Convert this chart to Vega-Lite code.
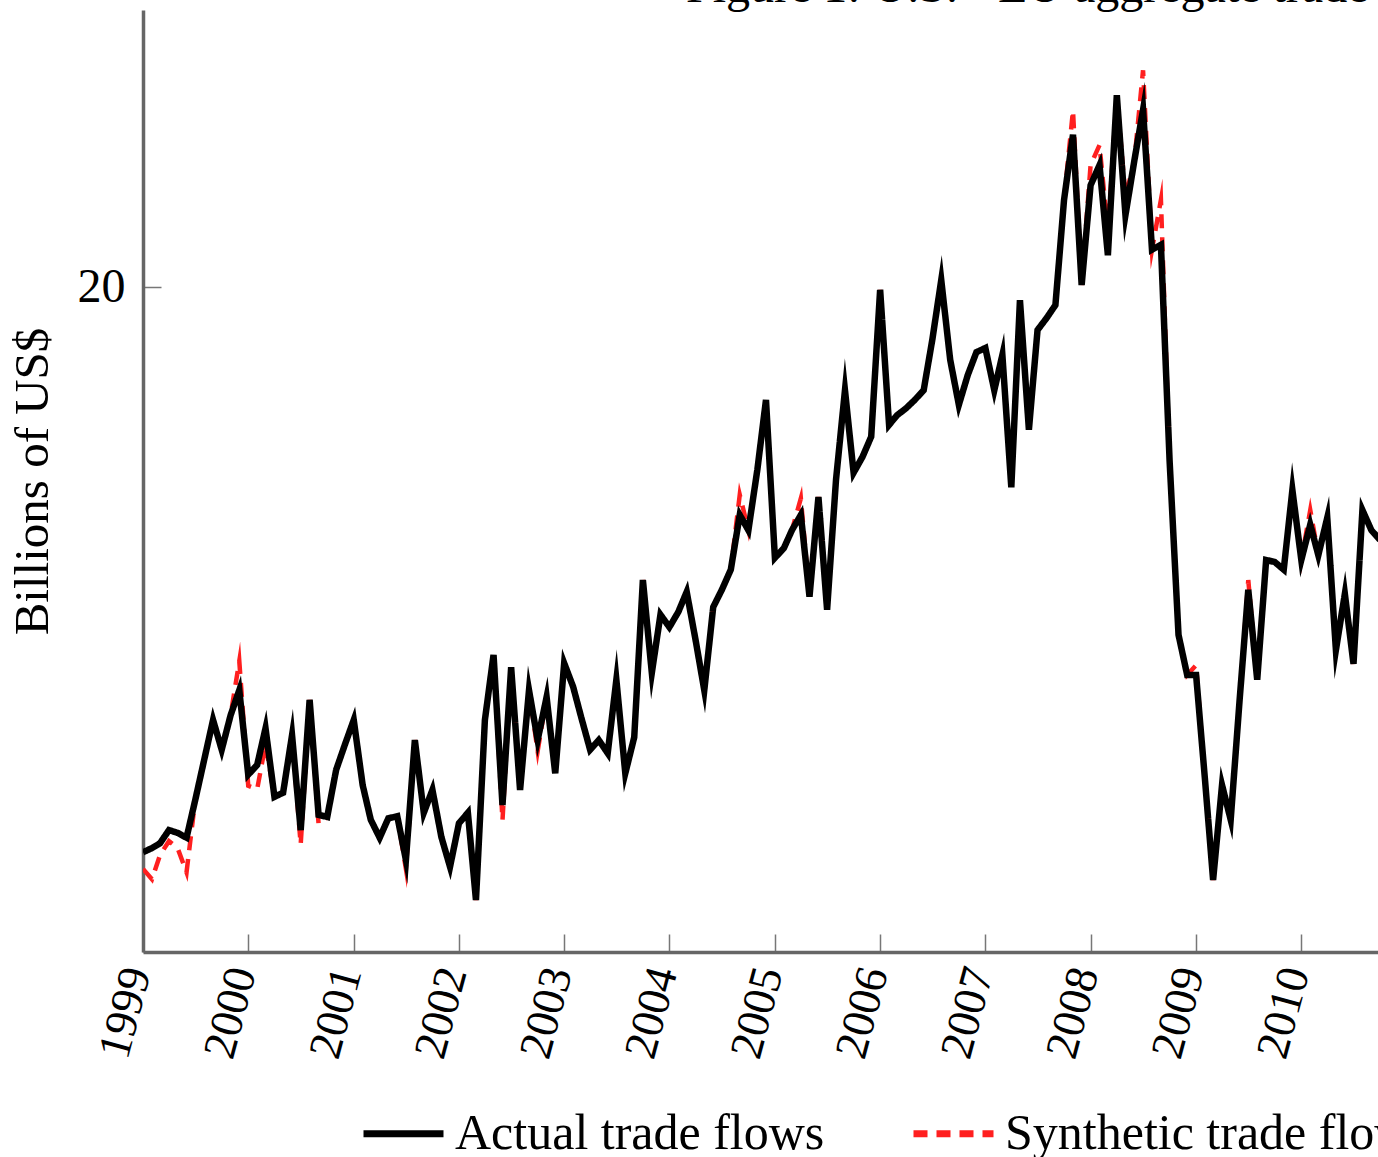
{
  "$schema": "https://vega.github.io/schema/vega-lite/v6.json",
  "width": 1235,
  "height": 942,
  "autosize": {"type": "none"},
  "padding": {"left": 143, "top": 10, "right": 0, "bottom": 205},
  "background": "white",
  "title": {"text": "Figure 1: U.S. - EU aggregate trade flows", "anchor": "start", "frame": "group", "dx": 543, "dy": 40, "fontSize": 48, "font": "Liberation Serif", "fontWeight": "normal", "color": "black", "baseline": "alphabetic", "offset": 0},
  "config": {"view": {"stroke": null}},
  "data": {"values": [
    {"date": "1999-01-01", "actual": 11.84, "synthetic": 11.6},
    {"date": "1999-02-01", "actual": 11.90, "synthetic": 11.45},
    {"date": "1999-03-01", "actual": 11.97, "synthetic": 11.8},
    {"date": "1999-04-01", "actual": 12.16, "synthetic": 12.0},
    {"date": "1999-05-01", "actual": 12.12, "synthetic": 11.9},
    {"date": "1999-06-01", "actual": 12.05, "synthetic": 11.55},
    {"date": "1999-07-01", "actual": 12.59, "synthetic": 12.59},
    {"date": "1999-08-01", "actual": 13.17, "synthetic": 13.17},
    {"date": "1999-09-01", "actual": 13.75, "synthetic": 13.75},
    {"date": "1999-10-01", "actual": 13.32, "synthetic": 13.32},
    {"date": "1999-11-01", "actual": 13.82, "synthetic": 13.82},
    {"date": "1999-12-01", "actual": 14.18, "synthetic": 14.6},
    {"date": "2000-01-01", "actual": 12.96, "synthetic": 12.8},
    {"date": "2000-02-01", "actual": 13.10, "synthetic": 12.75},
    {"date": "2000-03-01", "actual": 13.63, "synthetic": 13.4},
    {"date": "2000-04-01", "actual": 12.64, "synthetic": 12.64},
    {"date": "2000-05-01", "actual": 12.70, "synthetic": 12.70},
    {"date": "2000-06-01", "actual": 13.53, "synthetic": 13.53},
    {"date": "2000-07-01", "actual": 12.16, "synthetic": 11.95},
    {"date": "2000-08-01", "actual": 14.04, "synthetic": 14.04},
    {"date": "2000-09-01", "actual": 12.38, "synthetic": 12.25},
    {"date": "2000-10-01", "actual": 12.35, "synthetic": 12.35},
    {"date": "2000-11-01", "actual": 13.03, "synthetic": 13.03},
    {"date": "2000-12-01", "actual": 13.39, "synthetic": 13.39},
    {"date": "2001-01-01", "actual": 13.75, "synthetic": 13.75},
    {"date": "2001-02-01", "actual": 12.81, "synthetic": 12.81},
    {"date": "2001-03-01", "actual": 12.31, "synthetic": 12.31},
    {"date": "2001-04-01", "actual": 12.05, "synthetic": 12.05},
    {"date": "2001-05-01", "actual": 12.33, "synthetic": 12.33},
    {"date": "2001-06-01", "actual": 12.36, "synthetic": 12.36},
    {"date": "2001-07-01", "actual": 11.73, "synthetic": 11.6},
    {"date": "2001-08-01", "actual": 13.46, "synthetic": 13.46},
    {"date": "2001-09-01", "actual": 12.41, "synthetic": 12.41},
    {"date": "2001-10-01", "actual": 12.74, "synthetic": 12.74},
    {"date": "2001-11-01", "actual": 12.06, "synthetic": 12.06},
    {"date": "2001-12-01", "actual": 11.63, "synthetic": 11.63},
    {"date": "2002-01-01", "actual": 12.26, "synthetic": 12.26},
    {"date": "2002-02-01", "actual": 12.41, "synthetic": 12.41},
    {"date": "2002-03-01", "actual": 11.15, "synthetic": 11.15},
    {"date": "2002-04-01", "actual": 13.75, "synthetic": 13.75},
    {"date": "2002-05-01", "actual": 14.69, "synthetic": 14.69},
    {"date": "2002-06-01", "actual": 12.52, "synthetic": 12.3},
    {"date": "2002-07-01", "actual": 14.51, "synthetic": 14.51},
    {"date": "2002-08-01", "actual": 12.74, "synthetic": 12.74},
    {"date": "2002-09-01", "actual": 14.18, "synthetic": 14.18},
    {"date": "2002-10-01", "actual": 13.46, "synthetic": 13.3},
    {"date": "2002-11-01", "actual": 14.08, "synthetic": 14.08},
    {"date": "2002-12-01", "actual": 12.98, "synthetic": 12.98},
    {"date": "2003-01-01", "actual": 14.57, "synthetic": 14.57},
    {"date": "2003-02-01", "actual": 14.23, "synthetic": 14.23},
    {"date": "2003-03-01", "actual": 13.79, "synthetic": 13.79},
    {"date": "2003-04-01", "actual": 13.32, "synthetic": 13.32},
    {"date": "2003-05-01", "actual": 13.46, "synthetic": 13.46},
    {"date": "2003-06-01", "actual": 13.27, "synthetic": 13.27},
    {"date": "2003-07-01", "actual": 14.33, "synthetic": 14.33},
    {"date": "2003-08-01", "actual": 12.98, "synthetic": 12.98},
    {"date": "2003-09-01", "actual": 13.50, "synthetic": 13.50},
    {"date": "2003-10-01", "actual": 15.77, "synthetic": 15.77},
    {"date": "2003-11-01", "actual": 14.43, "synthetic": 14.43},
    {"date": "2003-12-01", "actual": 15.27, "synthetic": 15.27},
    {"date": "2004-01-01", "actual": 15.09, "synthetic": 15.09},
    {"date": "2004-02-01", "actual": 15.31, "synthetic": 15.31},
    {"date": "2004-03-01", "actual": 15.60, "synthetic": 15.60},
    {"date": "2004-04-01", "actual": 14.90, "synthetic": 14.90},
    {"date": "2004-05-01", "actual": 14.18, "synthetic": 14.18},
    {"date": "2004-06-01", "actual": 15.38, "synthetic": 15.38},
    {"date": "2004-07-01", "actual": 15.63, "synthetic": 15.63},
    {"date": "2004-08-01", "actual": 15.92, "synthetic": 15.92},
    {"date": "2004-09-01", "actual": 16.71, "synthetic": 17.0},
    {"date": "2004-10-01", "actual": 16.49, "synthetic": 16.49},
    {"date": "2004-11-01", "actual": 17.36, "synthetic": 17.36},
    {"date": "2004-12-01", "actual": 18.37, "synthetic": 18.37},
    {"date": "2005-01-01", "actual": 16.09, "synthetic": 16.09},
    {"date": "2005-02-01", "actual": 16.23, "synthetic": 16.23},
    {"date": "2005-03-01", "actual": 16.49, "synthetic": 16.49},
    {"date": "2005-04-01", "actual": 16.71, "synthetic": 16.95},
    {"date": "2005-05-01", "actual": 15.53, "synthetic": 15.53},
    {"date": "2005-06-01", "actual": 16.97, "synthetic": 16.97},
    {"date": "2005-07-01", "actual": 15.34, "synthetic": 15.34},
    {"date": "2005-08-01", "actual": 17.22, "synthetic": 17.22},
    {"date": "2005-09-01", "actual": 18.51, "synthetic": 18.51},
    {"date": "2005-10-01", "actual": 17.32, "synthetic": 17.32},
    {"date": "2005-11-01", "actual": 17.55, "synthetic": 17.55},
    {"date": "2005-12-01", "actual": 17.84, "synthetic": 17.84},
    {"date": "2006-01-01", "actual": 19.96, "synthetic": 19.96},
    {"date": "2006-02-01", "actual": 18.01, "synthetic": 18.01},
    {"date": "2006-03-01", "actual": 18.15, "synthetic": 18.15},
    {"date": "2006-04-01", "actual": 18.25, "synthetic": 18.25},
    {"date": "2006-05-01", "actual": 18.37, "synthetic": 18.37},
    {"date": "2006-06-01", "actual": 18.51, "synthetic": 18.51},
    {"date": "2006-07-01", "actual": 19.24, "synthetic": 19.24},
    {"date": "2006-08-01", "actual": 20.10, "synthetic": 20.10},
    {"date": "2006-09-01", "actual": 18.95, "synthetic": 18.95},
    {"date": "2006-10-01", "actual": 18.30, "synthetic": 18.30},
    {"date": "2006-11-01", "actual": 18.73, "synthetic": 18.73},
    {"date": "2006-12-01", "actual": 19.06, "synthetic": 19.06},
    {"date": "2007-01-01", "actual": 19.12, "synthetic": 19.12},
    {"date": "2007-02-01", "actual": 18.51, "synthetic": 18.51},
    {"date": "2007-03-01", "actual": 19.02, "synthetic": 19.02},
    {"date": "2007-04-01", "actual": 17.11, "synthetic": 17.11},
    {"date": "2007-05-01", "actual": 19.81, "synthetic": 19.81},
    {"date": "2007-06-01", "actual": 17.94, "synthetic": 17.94},
    {"date": "2007-07-01", "actual": 19.38, "synthetic": 19.38},
    {"date": "2007-08-01", "actual": 19.55, "synthetic": 19.55},
    {"date": "2007-09-01", "actual": 19.74, "synthetic": 19.74},
    {"date": "2007-10-01", "actual": 21.26, "synthetic": 21.26},
    {"date": "2007-11-01", "actual": 22.20, "synthetic": 22.55},
    {"date": "2007-12-01", "actual": 20.03, "synthetic": 20.03},
    {"date": "2008-01-01", "actual": 21.47, "synthetic": 21.76},
    {"date": "2008-02-01", "actual": 21.76, "synthetic": 22.05},
    {"date": "2008-03-01", "actual": 20.46, "synthetic": 20.8},
    {"date": "2008-04-01", "actual": 22.77, "synthetic": 22.77},
    {"date": "2008-05-01", "actual": 21.04, "synthetic": 21.3},
    {"date": "2008-06-01", "actual": 21.83, "synthetic": 21.83},
    {"date": "2008-07-01", "actual": 22.56, "synthetic": 23.13},
    {"date": "2008-08-01", "actual": 20.54, "synthetic": 20.54},
    {"date": "2008-09-01", "actual": 20.61, "synthetic": 21.26},
    {"date": "2008-10-01", "actual": 17.50, "synthetic": 17.50},
    {"date": "2008-11-01", "actual": 14.98, "synthetic": 14.98},
    {"date": "2008-12-01", "actual": 14.40, "synthetic": 14.40},
    {"date": "2009-01-01", "actual": 14.40, "synthetic": 14.54},
    {"date": "2009-02-01", "actual": 12.88, "synthetic": 12.88},
    {"date": "2009-03-01", "actual": 11.44, "synthetic": 11.44},
    {"date": "2009-04-01", "actual": 12.81, "synthetic": 12.81},
    {"date": "2009-05-01", "actual": 12.31, "synthetic": 12.31},
    {"date": "2009-06-01", "actual": 14.04, "synthetic": 14.04},
    {"date": "2009-07-01", "actual": 15.63, "synthetic": 15.77},
    {"date": "2009-08-01", "actual": 14.33, "synthetic": 14.33},
    {"date": "2009-09-01", "actual": 16.06, "synthetic": 16.06},
    {"date": "2009-10-01", "actual": 16.03, "synthetic": 16.03},
    {"date": "2009-11-01", "actual": 15.92, "synthetic": 15.92},
    {"date": "2009-12-01", "actual": 17.07, "synthetic": 17.07},
    {"date": "2010-01-01", "actual": 16.06, "synthetic": 16.06},
    {"date": "2010-02-01", "actual": 16.57, "synthetic": 16.78},
    {"date": "2010-03-01", "actual": 16.13, "synthetic": 16.13},
    {"date": "2010-04-01", "actual": 16.67, "synthetic": 16.67},
    {"date": "2010-05-01", "actual": 14.76, "synthetic": 14.76},
    {"date": "2010-06-01", "actual": 15.57, "synthetic": 15.57},
    {"date": "2010-07-01", "actual": 14.56, "synthetic": 14.56},
    {"date": "2010-08-01", "actual": 16.78, "synthetic": 16.78},
    {"date": "2010-09-01", "actual": 16.49, "synthetic": 16.49},
    {"date": "2010-10-01", "actual": 16.35, "synthetic": 16.35}
  ]},
  "transform": [{"fold": ["synthetic", "actual"], "as": ["series", "value"]}],
  "encoding": {
    "x": {"field": "date", "type": "temporal",
      "scale": {"domain": [{"year": 1999, "month": 1, "date": 1}, {"year": 2010, "month": 9, "date": 24}]},
      "axis": {"title": null, "format": "%Y",
        "values": [{"year": 1999}, {"year": 2000}, {"year": 2001}, {"year": 2002}, {"year": 2003}, {"year": 2004}, {"year": 2005}, {"year": 2006}, {"year": 2007}, {"year": 2008}, {"year": 2009}, {"year": 2010}],
        "labelAngle": -75, "labelAlign": "right", "labelBaseline": "middle",
        "labelFont": "Liberation Serif", "labelFontSize": 46, "labelColor": "black",
        "labelPadding": 34, "labelOffset": -6, "tickSize": -18, "tickColor": "#777", "tickWidth": 1.5,
        "domainColor": "#666", "domainWidth": 3.5, "grid": false,
        "labelOverlap": false, "labelFlush": false, "labelBound": false}},
    "y": {"field": "value", "type": "quantitative",
      "scale": {"domain": [10.4, 24], "zero": false, "nice": false},
      "axis": {"title": "Billions of US$", "values": [20], "format": "d",
        "titleFont": "Liberation Serif", "titleFontSize": 49, "titleFontWeight": "normal", "titleColor": "black", "titlePadding": 20,
        "labelFont": "Liberation Serif", "labelFontSize": 48, "labelColor": "black",
        "labelPadding": 36, "tickSize": -18, "tickColor": "#777", "tickWidth": 1.5,
        "domainColor": "#666", "domainWidth": 3.5, "grid": false}},
    "color": {"field": "series", "type": "nominal",
      "scale": {"domain": ["actual", "synthetic"], "range": ["#000000", "#ff1f1f"]},
      "legend": {"orient": "none", "legendX": 217, "legendY": 1080, "direction": "horizontal", "title": null,
        "labelExpr": "datum.label == 'actual' ? 'Actual trade flows' : 'Synthetic trade flows'",
        "labelFont": "Liberation Serif", "labelFontSize": 50, "labelColor": "black", "labelLimit": 1000,
        "symbolType": "stroke", "symbolSize": 6400, "symbolStrokeWidth": 7, "columnPadding": 74, "labelOffset": 8}},
    "strokeDash": {"field": "series", "type": "nominal",
      "scale": {"domain": ["actual", "synthetic"], "range": [[1, 0], [14, 9]]},
      "legend": {"orient": "none", "legendX": 217, "legendY": 1080, "direction": "horizontal", "title": null,
        "labelExpr": "datum.label == 'actual' ? 'Actual trade flows' : 'Synthetic trade flows'",
        "labelFont": "Liberation Serif", "labelFontSize": 50, "labelColor": "black", "labelLimit": 1000,
        "symbolType": "stroke", "symbolSize": 6400, "symbolStrokeWidth": 7, "columnPadding": 74, "labelOffset": 8}}
  },
  "layer": [
    {"transform": [{"filter": "datum.series == 'synthetic'"}],
     "mark": {"type": "line", "clip": true, "strokeWidth": 4.5, "strokeJoin": "miter", "strokeMiterLimit": 10}},
    {"transform": [{"filter": "datum.series == 'actual'"}],
     "mark": {"type": "line", "clip": true, "strokeWidth": 6.5, "strokeJoin": "miter", "strokeMiterLimit": 10}}
  ]
}
